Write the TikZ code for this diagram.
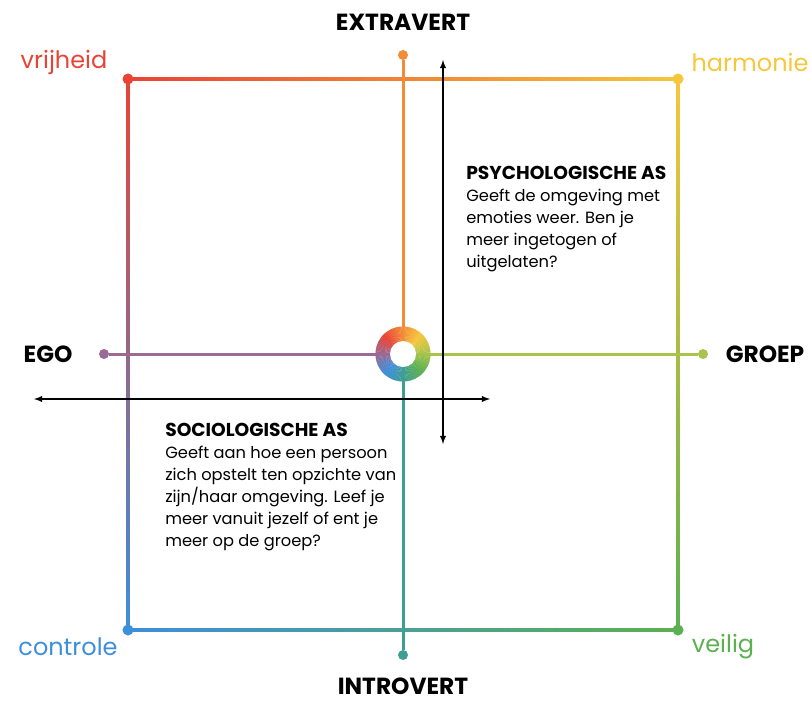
\documentclass[tikz,border=0pt]{standalone}
\usepackage{fontspec}
\setmainfont{Poppins}
\usetikzlibrary{calc}

\definecolor{vrijColor}{HTML}{E94335}
\definecolor{extraColor}{HTML}{F28C38}
\definecolor{harmColor}{HTML}{F6C63B}
\definecolor{groepColor}{HTML}{A9C44C}
\definecolor{veiligColor}{HTML}{5BB050}
\definecolor{introColor}{HTML}{3F9E94}
\definecolor{ctrlColor}{HTML}{3D8EDB}
\definecolor{egoColor}{HTML}{9A6B94}

\begin{document}
\begin{tikzpicture}[x=0.75pt,y=0.75pt,
  dot/.style={circle,inner sep=0pt,minimum size=7.5pt},
  axislabel/.style={inner sep=1pt,font=\fontsize{17.5}{20}\selectfont\bfseries},
  pole/.style={font=\fontsize{18}{20}\selectfont},
  explain/.style={align=left,inner sep=0pt,font=\fontsize{12.2}{16.5}\selectfont},
  colline/.style={line width=2.25pt}]
\useasboundingbox (0,0) rectangle (812,701);

% corners of the square
\node[dot,fill=vrijColor] (vrij) at (128,622) {};
\node[dot,fill=harmColor] (harm) at (678,622) {};
\node[dot,fill=ctrlColor] (ctrl) at (128,71) {};
\node[dot,fill=veiligColor] (veilig) at (678,71) {};
% ends of the two axes
\node[dot,fill=extraColor] (extra) at (403,646) {};
\node[dot,fill=introColor] (intro) at (403,46) {};
\node[dot,fill=egoColor] (ego) at (104,347) {};
\node[dot,fill=groepColor] (groep) at (703,347) {};
\coordinate (ring) at (403,347);

% the coloured square
\shade[left color=vrijColor,right color=harmColor]
  ($(vrij.center)+(0,-1.5)$) rectangle ($(harm.center)+(0,1.5)$);
\shade[left color=ctrlColor,right color=veiligColor]
  ($(ctrl.center)+(0,-1.5)$) rectangle ($(veilig.center)+(0,1.5)$);
\shade[top color=vrijColor,bottom color=ctrlColor]
  ($(ctrl.center)+(-1.5,0)$) rectangle ($(vrij.center)+(1.5,0)$);
\shade[top color=harmColor,bottom color=veiligColor]
  ($(veilig.center)+(-1.5,0)$) rectangle ($(harm.center)+(1.5,0)$);
% redraw the corner dots on top
\foreach \c/\col in {vrij/vrijColor,harm/harmColor,ctrl/ctrlColor,veilig/veiligColor}
  \fill[\col] (\c) circle[radius=5.5];

% the lines through the centre
\draw[colline,extraColor] (extra) -- (ring);
\draw[colline,introColor] (ring) -- (intro);
\draw[colline,egoColor] (ego) -- (ring);
\draw[colline,groepColor] (ring) -- (groep);

% the black arrows
\coordinate (psyTop) at (443,641);
\coordinate (psyBot) at (443,257);
\coordinate (socLeft) at (34,302);
\coordinate (socRight) at (490,302);
\draw[<->,>=latex,line width=1.1pt] (psyBot) -- (psyTop);
\draw[<->,>=latex,line width=1.1pt] (socLeft) -- (socRight);

% the colour ring
\foreach \sa/\ca/\cb in {0/groepColor/harmColor,45/harmColor/extraColor,
  90/extraColor/vrijColor,135/vrijColor/egoColor,180/egoColor/ctrlColor,
  225/ctrlColor/introColor,270/introColor/veiligColor,315/veiligColor/groepColor}
{
  \foreach \t in {0,3,...,42}
  {
    \pgfmathtruncatemacro\p{\t*100/45}
    \fill[\cb!\p!\ca] (ring) -- ++(\sa+\t:27.5)
      arc[start angle=\sa+\t,end angle=\sa+\t+3.5,radius=27.5] -- cycle;
  }
}
\fill[white] (ring) circle[radius=13];

% labels
\node[axislabel,anchor=base] (extraLbl) at (403,670) {EXTRAVERT};
\node[axislabel,anchor=base] (introLbl) at (403,7) {INTROVERT};
\node[axislabel] (egoLbl) at (48,347) {EGO};
\node[axislabel] (groepLbl) at (765,347) {GROEP};
\node[pole,text=vrijColor] (vrijLbl) at (64,639) {vrijheid};
\node[pole,text=harmColor] (harmLbl) at (750,639) {harmonie};
\node[pole,text=ctrlColor] (ctrlLbl) at (68,54) {controle};
\node[pole,text=veiligColor] (veiligLbl) at (723,54) {veilig};

% explanations
\node[explain,anchor=north west] (psyText) at (466,535)
  {{\fontsize{14}{16.5}\selectfont\bfseries PSYCHOLOGISCHE AS}\\
   Geeft de omgeving met\\
   emoties weer. Ben je\\
   meer ingetogen of\\
   uitgelaten?};
\node[explain,anchor=north west] (socText) at (165,278)
  {{\fontsize{14}{16.5}\selectfont\bfseries SOCIOLOGISCHE AS}\\
   Geeft aan hoe een persoon\\
   zich opstelt ten opzichte van\\
   zijn/haar omgeving. Leef je\\
   meer vanuit jezelf of ent je\\
   meer op de groep?};
\end{tikzpicture}
\end{document}
